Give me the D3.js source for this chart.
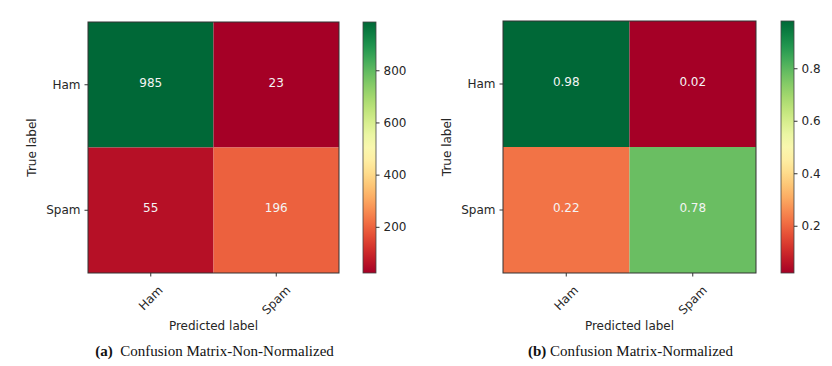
<!DOCTYPE html>
<html lang="en">
<head>
<meta charset="utf-8">
<script src="https://d3js.org/d3.v7.min.js"></script>
<style>
  body { margin: 0; background: #fff; }
  svg text { font-family: "DejaVu Sans", sans-serif; fill: #262626; }
  .cell-num { fill: #f4f4f4; font-size: 12px; }
  .axis text { font-size: 12px; }
  .axis path { display: none; }
  .axis line { stroke: #333; }
  .caption { font-family: "Liberation Serif", "Times New Roman", serif; font-size: 15px; fill: #111; }
</style>
</head>
<body>
<svg id="chart" width="832" height="366"></svg>
<script>
// data
const classes = ["Ham", "Spam"]
const countsMatrix = [[985, 23], [55, 196]]
const normMatrix = [[0.98, 0.02], [0.22, 0.78]]
const countTicks = [200, 400, 600, 800]
const normTicks = [0.2, 0.4, 0.6, 0.8]
const captions = [["(a)", "Confusion Matrix-Non-Normalized"], ["(b)", "Confusion Matrix-Normalized"]]

const svg = d3.select("#chart")

// draw one confusion matrix panel
function panel(matrix, ticks, fmt, caption, box) {
  let flat = matrix.flat()
  let color = d3.scaleSequential(d3.interpolateRdYlGn).domain(d3.extent(flat))
  let x = d3.scaleBand().domain(classes).range([box.x0, box.x1])
  let y = d3.scaleBand().domain(classes).range([box.y0, box.y1])
  let g = svg.append("g")

  let cells = []
  matrix.forEach((row, i) => row.forEach((v, j) => cells.push({r: classes[i], c: classes[j], v: v})))

  g.selectAll("rect.cell").data(cells).enter().append("rect")
    .attr("x", d => x(d.c)).attr("y", d => y(d.r))
    .attr("width", x.bandwidth()).attr("height", y.bandwidth())
    .attr("fill", d => color(d.v))
  g.selectAll("text.cell-num").data(cells).enter().append("text")
    .attr("class", "cell-num")
    .attr("x", d => x(d.c) + x.bandwidth() / 2)
    .attr("y", d => y(d.r) + y.bandwidth() / 2 - 2)
    .attr("text-anchor", "middle").attr("dominant-baseline", "central")
    .text(d => fmt(d.v))
  g.append("rect").attr("x", box.x0).attr("y", box.y0)
    .attr("width", box.x1 - box.x0).attr("height", box.y1 - box.y0)
    .attr("fill", "none").attr("stroke", "#333").attr("stroke-width", 1)

  // y axis
  g.append("g").attr("class", "axis").attr("transform", `translate(${box.x0},0)`)
    .call(d3.axisLeft(y).tickSize(3.5).tickPadding(4))
  // x axis with rotated labels
  let xa = g.append("g").attr("class", "axis").attr("transform", `translate(0,${box.y1})`)
    .call(d3.axisBottom(x).tickSize(3.5))
  xa.selectAll(".tick text").each(function () {
    let t = d3.select(this)
    let w = this.getComputedTextLength()
    let off = 11 + (w + 12) * 0.7071 / 2
    t.attr("y", null).attr("dy", null)
      .attr("text-anchor", "middle").attr("dominant-baseline", "central")
      .attr("transform", `translate(0,${off}) rotate(-45)`)
  })

  g.append("text").attr("x", (box.x0 + box.x1) / 2).attr("y", 330)
    .attr("text-anchor", "middle").style("font-size", "12px").text("Predicted label")
  g.append("text").attr("transform", `translate(${box.x0 - 52},${(box.y0 + box.y1) / 2}) rotate(-90)`)
    .attr("text-anchor", "middle").style("font-size", "12px").text("True label")

  // colorbar
  let id = "grad" + box.x0
  let grad = svg.append("defs").append("linearGradient").attr("id", id)
    .attr("x1", 0).attr("y1", 1).attr("x2", 0).attr("y2", 0)
  d3.range(0, 1.001, 0.05).forEach(t => grad.append("stop")
    .attr("offset", t).attr("stop-color", d3.interpolateRdYlGn(t)))
  g.append("rect").attr("x", box.cb).attr("y", box.y0)
    .attr("width", 13).attr("height", box.y1 - box.y0)
    .attr("fill", `url(#${id})`).attr("stroke", "#444").attr("stroke-width", 0.8)
  let cy = d3.scaleLinear().domain(color.domain()).range([box.y1, box.y0])
  g.append("g").attr("class", "axis").attr("transform", `translate(${box.cb + 13},0)`)
    .call(d3.axisRight(cy).tickValues(ticks).tickSize(3.5).tickPadding(4).tickFormat(d3.format("")))

  // caption
  let cap = g.append("text").attr("class", "caption")
    .attr("x", (box.x0 + box.x1) / 2 + 1).attr("y", 356).attr("text-anchor", "middle")
  cap.append("tspan").style("font-weight", "bold").text(caption[0])
  cap.append("tspan").attr("xml:space", "preserve").text(box.x0 < 400 ? "\u00a0\u00a0" + caption[1] : " " + caption[1])
}

panel(countsMatrix, countTicks, d3.format("d"), captions[0], {x0: 88, x1: 339, y0: 22, y1: 273, cb: 363})
panel(normMatrix, normTicks, d3.format(".2f"), captions[1], {x0: 503, x1: 756, y0: 21, y1: 273, cb: 781})
</script>
</body>
</html>
